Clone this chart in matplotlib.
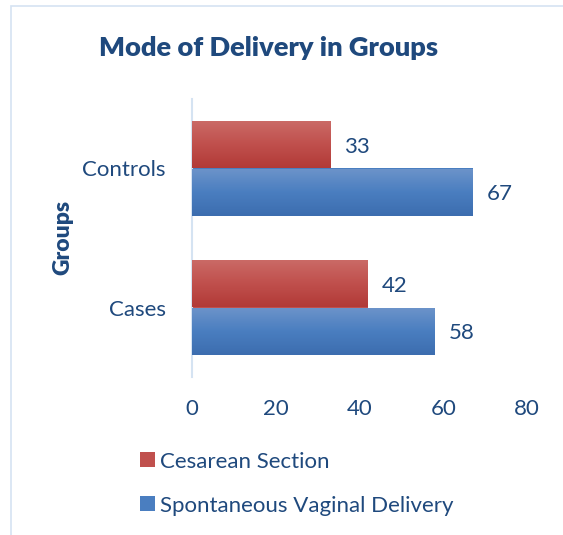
import numpy as np
import matplotlib
matplotlib.use("Agg")
import matplotlib.pyplot as plt
from matplotlib.colors import LinearSegmentedColormap
from matplotlib.patches import Rectangle

groups = ["Cases", "Controls"]
series = ["Cesarean Section", "Spontaneous Vaginal Delivery"]
cesarean = [42, 33]
svd = [58, 67]
x_ticks = [0, 20, 40, 60, 80]

FONT = ["Lato", "DejaVu Sans"]
TXT = "#1F497D"
plt.rcParams['font.family'] = FONT

fig = plt.figure(figsize=(5.63, 5.35), dpi=100)
fig.patches.append(Rectangle((11/563, -0.1), 1.2, 1.1 - 6/535, transform=fig.transFigure,
                             fill=False, edgecolor="#D5E3F2", linewidth=1.2, zorder=0))
ax = fig.add_axes([192/563, 1 - 377/535, 335/563, 278/535])

y = np.arange(len(groups))
h = 0.34
red_cmap = LinearSegmentedColormap.from_list("r", ["#CB6B67", "#C0504D", "#B23A37"])
blue_cmap = LinearSegmentedColormap.from_list("b", ["#6D94CA", "#4A7EC0", "#3C6DAF"])

def grad_bars(ys, vals, cmap, color):
    bars = ax.barh(ys, vals, height=h, color=color, edgecolor="none", zorder=2)
    grad = np.linspace(0, 1, 256).reshape(-1, 1)
    for b in bars:
        x0, y0 = b.get_x(), b.get_y()
        w, hh = b.get_width(), b.get_height()
        im = ax.imshow(grad, cmap=cmap, aspect="auto", origin="upper",
                       extent=[x0, x0 + w, y0, y0 + hh], zorder=3)
        im.set_clip_path(b)
    return bars

b1 = grad_bars(y + h / 2, cesarean, red_cmap, "#C0504D")
b2 = grad_bars(y - h / 2, svd, blue_cmap, "#4A7EC0")
for bars, vals in ((b1, cesarean), (b2, svd)):
    for b, v in zip(bars, vals):
        ax.text(v + 3.3, b.get_y() + b.get_height() / 2 - 0.015, f"{v}", va="center", ha="left",
                fontsize=16, color=TXT)

ax.set_xlim(0, 80)
ax.set_ylim(-0.5, 1.5)
ax.set_xticks(x_ticks)
ax.set_yticks(y)
ax.set_yticklabels(groups)
ax.tick_params(axis="both", length=0, labelsize=16, labelcolor=TXT)
ax.tick_params(axis="y", pad=19)
ax.tick_params(axis="x", pad=16)
for s in ["top", "right", "bottom"]:
    ax.spines[s].set_visible(False)
ax.spines["left"].set_color("#D5E3F2")
ax.spines["left"].set_linewidth(1.5)
ax.set_facecolor("none")

fig.text(63/563, 1 - 237/535, "Groups", rotation=90, ha="center", va="center",
         fontsize=16.5, fontweight="heavy", color=TXT)
fig.text(269/563, 1 - 48/535, "Mode of Delivery in Groups", ha="center", va="center",
         fontsize=19.6, fontweight="heavy", color=TXT)

ax.legend([b1, b2], series, loc="center left", bbox_to_anchor=(140/563, 1 - 483.5/535),
          bbox_transform=fig.transFigure, frameon=False, fontsize=16, labelcolor=TXT,
          handlelength=0.68, handleheight=0.68, handletextpad=0.23, labelspacing=1.08,
          borderpad=0, borderaxespad=0)

fig.savefig("out.png", dpi=100)
